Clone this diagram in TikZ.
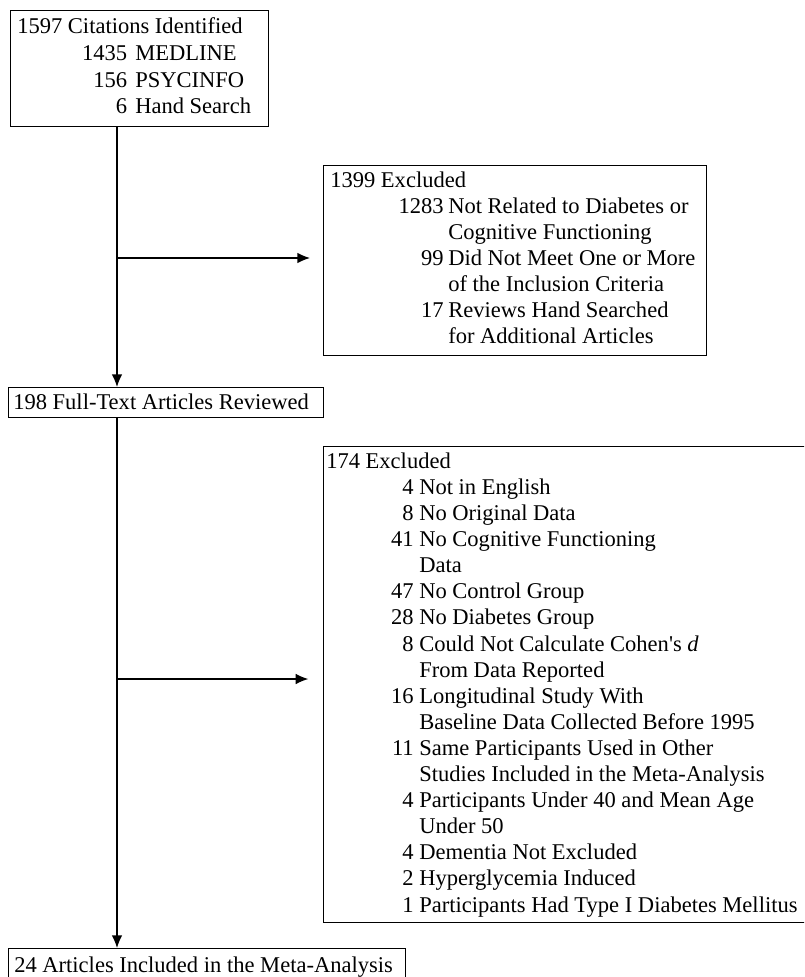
\documentclass[tikz,border=0pt]{standalone}
\usepackage{fontspec}
\setmainfont{Liberation Serif}
\usetikzlibrary{arrows.meta}
\tikzset{
  box/.style={draw, line width=0.9pt, rectangle, inner sep=0pt, anchor=north west},
  txt/.style={inner sep=0pt, font=\fontsize{16.9pt}{19.6pt}\selectfont},
  arr/.style={draw, line width=1pt, -{Latex[length=9.5pt,width=8pt]}},
}
\newcommand\rowitem[6]{%
  \node[txt,anchor=base east] (#1a) at (#2,#4) {#5};
  \node[txt,anchor=base west] (#1b) at (#3,#4) {#6};}
\newcommand\rowcont[4]{\node[txt,anchor=base west] (#1) at (#2,#3) {#4};}
\begin{document}
\begin{tikzpicture}[x=0.75pt,y=-0.75pt]
\useasboundingbox (0,0) rectangle (804,977);
\clip (0,0) rectangle (804,977);
% boxes
\node[box, minimum width=193.5pt, minimum height=87pt] (src) at (10,10) {};
\node[box, minimum width=287.25pt, minimum height=142.5pt] (exa) at (323,165) {};
\node[box, minimum width=236.25pt, minimum height=22.5pt] (full) at (8,387) {};
\node[box, minimum width=366.75pt, minimum height=357pt] (exb) at (323,446) {};
\node[box, minimum width=297.75pt, minimum height=31.5pt] (inc) at (8,948) {};
% top box text
\rowcont{s0}{17}{34}{1597 Citations Identified}
\rowitem{s1}{127.5}{135}{61}{1435}{MEDLINE}
\rowitem{s2}{127.5}{135}{87.3}{156}{PSYCINFO}
\rowitem{s3}{127.5}{135}{113.6}{6}{Hand Search}
% first exclusion box
\rowcont{e0}{330}{187}{1399 Excluded}
\rowitem{e1}{444}{448}{213.1}{1283}{Not Related to Diabetes or}
\rowcont{e2}{448}{239.2}{Cognitive Functioning}
\rowitem{e3}{444}{448}{265.3}{99}{Did Not Meet One or More}
\rowcont{e4}{448}{291.4}{of the Inclusion Criteria}
\rowitem{e5}{444}{448}{317.5}{17}{Reviews Hand Searched}
\rowcont{e6}{448}{343.6}{for Additional Articles}
% full text
\rowcont{f0}{13}{409}{198 Full-Text Articles Reviewed}
% second exclusion box
\rowcont{x0}{326}{468.3}{174 Excluded}
\rowitem{x1}{414}{419}{494.4}{4}{Not in English}
\rowitem{x2}{414}{419}{520.5}{8}{No Original Data}
\rowitem{x3}{414}{419}{546.6}{41}{No Cognitive Functioning}
\rowcont{x4}{419}{572.7}{Data}
\rowitem{x5}{414}{419}{598.8}{47}{No Control Group}
\rowitem{x6}{414}{419}{624.9}{28}{No Diabetes Group}
\rowitem{x7}{414}{419}{651}{8}{Could Not Calculate Cohen\textquotesingle s \textit{d}}
\rowcont{x8}{419}{677.1}{From Data Reported}
\rowitem{x9}{414}{419}{703.2}{16}{Longitudinal Study With}
\rowcont{x10}{419}{729.3}{Baseline Data Collected Before 1995}
\rowitem{x11}{414}{419}{755.4}{11}{Same Participants Used in Other}
\rowcont{x12}{419}{781.5}{Studies Included in the Meta-Analysis}
\rowitem{x13}{414}{419}{807.6}{4}{Participants Under 40 and Mean Age}
\rowcont{x14}{419}{833.7}{Under 50}
\rowitem{x15}{414}{419}{859.8}{4}{Dementia Not Excluded}
\rowitem{x16}{414}{419}{885.9}{2}{Hyperglycemia Induced}
\rowitem{x17}{414}{419}{912}{1}{Participants Had Type I Diabetes Mellitus}
% included
\rowcont{i0}{14}{972}{24 Articles Included in the Meta-Analysis}
% connectors
\coordinate (ba) at (117,258);
\coordinate (bb) at (117,679);
\draw[arr] (src.south -| ba) -- (full.north -| ba);
\draw[arr, shorten >=9.75pt] (ba) -- (exa.west |- ba);
\draw[arr] (full.south -| bb) -- (inc.north -| bb);
\draw[arr, shorten >=11pt] (bb) -- (exb.west |- bb);
\end{tikzpicture}
\end{document}
